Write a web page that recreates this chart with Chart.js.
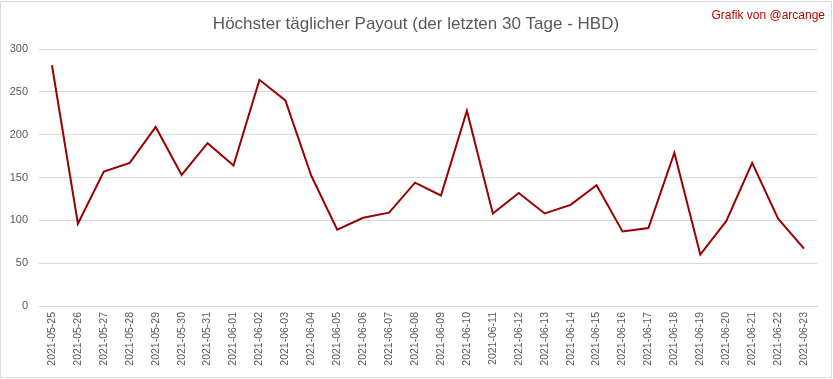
<!DOCTYPE html>
<html>
<head>
<meta charset="utf-8">
<script src="https://cdn.jsdelivr.net/npm/chart.js@4"></script>
<style>
  html, body { margin: 0; padding: 0; background: #fff; }
  #wrap { width: 833px; height: 379px; }
</style>
</head>
<body>
<div id="wrap"><canvas id="myChart" width="833" height="379"></canvas></div>
<script>
const days = [
  '2021-05-25', '2021-05-26', '2021-05-27', '2021-05-28', '2021-05-29',
  '2021-05-30', '2021-05-31', '2021-06-01', '2021-06-02', '2021-06-03',
  '2021-06-04', '2021-06-05', '2021-06-06', '2021-06-07', '2021-06-08',
  '2021-06-09', '2021-06-10', '2021-06-11', '2021-06-12', '2021-06-13',
  '2021-06-14', '2021-06-15', '2021-06-16', '2021-06-17', '2021-06-18',
  '2021-06-19', '2021-06-20', '2021-06-21', '2021-06-22', '2021-06-23',
];
const maxPayout = [
  281, 96, 157, 167, 209, 153, 190, 164, 264, 240,
  152, 89, 103, 109, 144, 129, 228, 108, 132, 108,
  118, 141, 87, 91, 179, 60, 99, 167, 102, 67,
];
const yTicks = [0, 50, 100, 150, 200, 250, 300];

const chartTitle = 'Höchster täglicher Payout (der letzten 30 Tage - HBD)';
const credit = 'Grafik von @arcange';

const frame = {
  id: 'frame',
  afterDraw(chart) {
    const c = chart.ctx;
    c.save();
    c.strokeStyle = '#d9d9d9';
    c.lineWidth = 1;
    c.strokeRect(0.5, 1.5, 831, 376);
    c.fillStyle = '#595959';
    c.font = '17px "Liberation Sans"';
    c.textAlign = 'center';
    c.textBaseline = 'middle';
    c.fillText(chartTitle, 416, 24);
    c.fillStyle = '#c00000';
    c.font = '12px "Liberation Sans"';
    c.textAlign = 'right';
    c.fillText(credit, 825, 16);
    c.restore();
  },
};

const ctx = document.getElementById('myChart').getContext('2d');
const myChart = new Chart(ctx, {
  type: 'line',
  data: {
    labels: days,
    datasets: [
      {
        label: 'HBD',
        data: maxPayout,
        borderColor: '#990000',
        borderWidth: 2,
        pointRadius: 0,
        tension: 0,
        fill: false,
      },
    ],
  },
  options: {
    responsive: false,
    animation: false,
    layout: {
      padding: { left: 0, right: 16, top: 49, bottom: 0 },
    },
    scales: {
      x: {
        offset: true,
        afterFit(scale) { scale.height = 73; },
        grid: { display: false, drawTicks: false },
        border: { color: '#d9d9d9' },
        ticks: {
          autoSkip: false,
          minRotation: 90,
          maxRotation: 90,
          padding: 6,
          color: '#595959',
          font: { family: 'Liberation Sans', size: 10.5 },
        },
      },
      y: {
        min: 0,
        max: 300,
        afterFit(scale) { scale.width = 39; },
        afterBuildTicks(scale) { scale.ticks = yTicks.map(v => ({ value: v })); },
        grid: { color: '#d9d9d9', drawTicks: false },
        border: { display: false },
        ticks: {
          padding: 11,
          color: '#595959',
          font: { family: 'Liberation Sans', size: 11 },
        },
      },
    },
    plugins: {
      legend: { display: false },
      title: { display: false },
      tooltip: { enabled: false },
    },
  },
  plugins: [frame],
});
</script>
</body>
</html>
